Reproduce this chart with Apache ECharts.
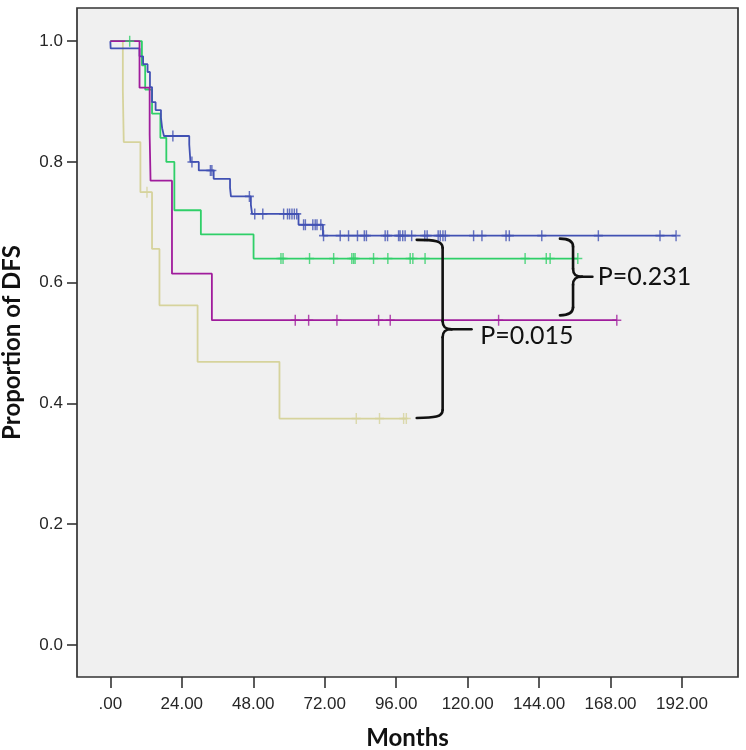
<!DOCTYPE html>
<html><head><meta charset="utf-8">
<script src="https://cdn.jsdelivr.net/npm/echarts@6/dist/echarts.min.js"></script>
<style>html,body{margin:0;padding:0;background:#fff}#c{width:746px;height:750px}</style>
</head><body><div id="c"></div>
<script>
// ---------- data ----------
const xTicks = [0, 24, 48, 72, 96, 120, 144, 168, 192];
const yTicks = [0, 0.2, 0.4, 0.6, 0.8, 1.0];

// Blue group: event times and survival after each event
const blueTimes = [0, 0.1, 9.8, 11.0, 12.5, 13.3, 14.0, 15.2, 17.0, 17.4, 18.0, 26.5, 26.9, 29.7, 34.7, 40.2, 40.5, 47.2, 47.6, 63.2, 71.4];
const blueSurv  = [1.0, 0.988, 0.975, 0.962, 0.949, 0.924, 0.899, 0.886, 0.873, 0.856, 0.843, 0.829, 0.800, 0.786, 0.772, 0.757, 0.743, 0.729, 0.714, 0.696, 0.678];
const blueCensor = [21.0, 27.4, 33.6, 34.1, 46.7, 48.5, 51.2, 58.2, 59.5, 60.2, 61.0, 61.8, 62.6, 64.9, 65.5, 68.0, 68.8, 69.4, 70.7, 71.6, 77.2, 80.0, 83.0, 85.3, 86.0, 92.3, 93.1, 96.8, 97.3, 98.2, 99.0, 101.2, 105.6, 106.4, 110.1, 110.8, 111.7, 112.5, 122.0, 124.8, 132.9, 134.0, 144.9, 163.9, 184.6, 190.0];

// Green group
const greenTimes = [0, 10.6, 11.7, 14.0, 16.8, 18.8, 21.5, 30.4, 48.1];
const greenSurv  = [1.0, 0.96, 0.92, 0.88, 0.84, 0.80, 0.72, 0.68, 0.64];
const greenCensor = [6.5, 57.3, 58.0, 66.9, 75.0, 81.1, 81.7, 82.2, 88.4, 93.2, 100.7, 101.6, 105.7, 139.3, 146.4, 147.7, 157.0];

// Magenta group
const magentaTimes = [0, 9.8, 13.2, 13.5, 20.7, 34.1];
const magentaSurv  = [1.0, 0.923, 0.846, 0.769, 0.615, 0.538];
const magentaCensor = [62.1, 66.6, 76.1, 90.1, 94.0, 130.4, 170.1];

// Yellow group
const yellowTimes = [0, 4.2, 4.5, 10.1, 14.0, 16.5, 29.3, 56.8];
const yellowSurv  = [1.0, 0.917, 0.833, 0.75, 0.656, 0.5625, 0.469, 0.375];
const yellowCensor = [12.3, 82.6, 90.4, 98.5, 99.4];

// P-value annotation texts
const pLabels = ['P=0.015', 'P=0.231'];

// ---------- helpers ----------
function survAt(times, surv, t) {
  let s = surv[0];
  for (let i = 0; i < times.length; i++) { if (times[i] <= t) s = surv[i]; }
  return s;
}
function stepData(times, surv, censor) {
  const d = times.map((t, i) => [t, surv[i]]);
  const last = Math.max(times[times.length - 1], censor[censor.length - 1]);
  d.push([last, surv[surv.length - 1]]);
  return d;
}
function censorData(times, surv, censor) {
  return censor.map(c => [c, survAt(times, surv, c)]);
}
const plusPath = 'path://M4.2,0 L5.8,0 L5.8,4.3 L10,4.3 L10,5.7 L5.8,5.7 L5.8,10 L4.2,10 L4.2,5.7 L0,5.7 L0,4.3 L4.2,4.3 Z';

const groups = [
  {name: 'yellow', color: '#D6D39C', t: yellowTimes, s: yellowSurv, c: yellowCensor},
  {name: 'green', color: '#2FCF68', t: greenTimes, s: greenSurv, c: greenCensor},
  {name: 'blue', color: '#4151B3', t: blueTimes, s: blueSurv, c: blueCensor},
  {name: 'magenta', color: '#A01C9C', t: magentaTimes, s: magentaSurv, c: magentaCensor}
];
const series = [];
groups.forEach((g, i) => {
  series.push({
    type: 'line', name: g.name, step: 'end', showSymbol: false, animation: false,
    data: stepData(g.t, g.s, g.c), z: 2 + i,
    lineStyle: {color: g.color, width: 1.8}, itemStyle: {color: g.color}
  });
  series.push({
    type: 'scatter', name: g.name + '-c', symbol: plusPath, symbolSize: [9, 11],
    data: censorData(g.t, g.s, g.c), z: 10 + i, animation: false,
    itemStyle: {color: g.color}
  });
});

const axisColor = '#333';
const chart = echarts.init(document.getElementById('c'), null, {renderer: 'canvas'});
chart.setOption({
  backgroundColor: '#fff',
  animation: false,
  grid: {left: 77, right: 8, top: 8, bottom: 73, show: true, outerBoundsMode: 'none', containLabel: false,
         backgroundColor: '#F0F0F0', borderColor: axisColor, borderWidth: 1.7},
  xAxis: {
    type: 'value', min: -11.2, max: 210.8,
    axisLine: {show: false, onZero: false}, splitLine: {show: false},
    axisTick: {show: true, inside: false, customValues: xTicks, length: 11, lineStyle: {color: axisColor, width: 1.6}},
    axisLabel: {customValues: xTicks, formatter: v => v === 0 ? '.00' : v.toFixed(2), fontSize: 17, fontFamily: 'Liberation Sans', color: '#262626', margin: 19},
    name: 'Months', nameLocation: 'middle', nameGap: 49,
    nameTextStyle: {fontFamily: 'Lato', fontWeight: 'bold', fontSize: 24, color: '#111'}
  },
  yAxis: {
    type: 'value', min: -0.053, max: 1.055,
    axisLine: {show: false, onZero: false}, splitLine: {show: false},
    axisTick: {show: true, inside: false, customValues: yTicks, length: 10, lineStyle: {color: axisColor, width: 1.6}},
    axisLabel: {customValues: yTicks, formatter: v => v.toFixed(1), fontSize: 17, fontFamily: 'Liberation Sans', color: '#262626', margin: 14},
    name: 'Proportion of DFS', nameLocation: 'middle', nameGap: 53,
    nameTextStyle: {fontFamily: 'Lato', fontWeight: 'bold', fontSize: 24, color: '#111'}
  },
  series: series
});

// ---------- braces with p-values (anchored in data units) ----------
const braces = [
  {top: [102.9, 0.671], bottom: [102.9, 0.376], vx: 111.6, tipY: 0.523, tipEnd: 121.3, label: pLabels[0], textAt: [124.2, 0.512]},
  {top: [151.0, 0.673], bottom: [151.0, 0.546], vx: 155.4, tipY: 0.610, tipEnd: 161.9, label: pLabels[1], textAt: [163.7, 0.610]}
];
const px = p => chart.convertToPixel({gridIndex: 0}, p);
const graphics = [];
const braceStyle = {stroke: '#111', lineWidth: 2.6, fill: null, lineCap: 'round'};
braces.forEach(b => {
  const [xL, yT] = px(b.top);
  const [, yB] = px(b.bottom);
  const [xV, yM] = px([b.vx, b.tipY]);
  const [xE] = px([b.tipEnd, b.tipY]);
  const r = 8;
  const curves = [
    {x1: xL, y1: yT, cpx1: xV - 8, cpy1: yT, cpx2: xV, cpy2: yT + 1, x2: xV, y2: yT + r},
    {x1: xV, y1: yM - r, cpx1: xV, cpy1: yM - 2, cpx2: xV + 3, cpy2: yM, x2: xV + 9, y2: yM},
    {x1: xV + 9, y1: yM, cpx1: xV + 3, cpy1: yM, cpx2: xV, cpy2: yM + 2, x2: xV, y2: yM + r},
    {x1: xV, y1: yB - r, cpx1: xV, cpy1: yB - 1, cpx2: xV - 8, cpy2: yB, x2: xL, y2: yB}
  ];
  curves.forEach(c => graphics.push({type: 'bezierCurve', shape: c, style: braceStyle, z: 50}));
  graphics.push({type: 'line', shape: {x1: xV, y1: yT + r, x2: xV, y2: yM - r}, style: braceStyle, z: 50});
  graphics.push({type: 'line', shape: {x1: xV, y1: yM + r, x2: xV, y2: yB - r}, style: braceStyle, z: 50});
  graphics.push({type: 'line', shape: {x1: xV + 9, y1: yM, x2: xE, y2: yM}, style: braceStyle, z: 50});
  const [tx, ty] = px(b.textAt);
  graphics.push({type: 'text', x: tx, y: ty, z: 50,
    style: {text: b.label, font: '25px Lato', fill: '#111', verticalAlign: 'middle', align: 'left'}});
});
chart.setOption({graphic: graphics});
</script>
</body></html>
